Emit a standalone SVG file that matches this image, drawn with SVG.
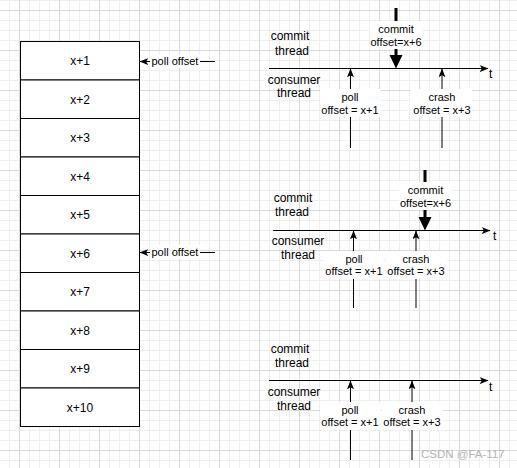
<svg xmlns="http://www.w3.org/2000/svg" width="517" height="468" viewBox="0 0 517 468">
<defs>
<pattern id="grid" x="19" y="10" width="40" height="40" patternUnits="userSpaceOnUse">
<path d="M10.5,0V40M20.5,0V40M30.5,0V40M0,10.5H40M0,20.5H40M0,30.5H40" stroke="#efefef" stroke-width="1" fill="none"/>
<path d="M0.5,0V40M0,0.5H40" stroke="#dadada" stroke-width="1" fill="none"/>
</pattern>
<marker id="arr" viewBox="0 0 10 8" markerWidth="9" markerHeight="7" refX="9.5" refY="4" orient="auto" markerUnits="userSpaceOnUse">
<path d="M0,0 L10,4 L0,8 L2.5,4 Z" fill="#000"/>
</marker>
<style>
text{font-family:"Liberation Sans",Arial,sans-serif;fill:#000;}
.cell{fill:#fff;stroke:#000;stroke-width:1;}
.t12{font-size:12px;text-anchor:middle;}
.t11{font-size:11px;text-anchor:middle;}
.ln{stroke:#000;stroke-width:1;fill:none;}
.bg{fill:#fff;}
.bold{stroke:#000;stroke-width:3;fill:none;}
</style>
</defs>
<rect width="517" height="468" fill="#fff"/>
<rect width="517" height="468" fill="url(#grid)"/>

<g id="table">
<g id="cell1"><rect class="cell" x="20.5" y="41.5" width="119" height="38.5"/><text class="t12" x="80" y="65">x+1</text></g>
<g id="cell2"><rect class="cell" x="20.5" y="80" width="119" height="38.5"/><text class="t12" x="80" y="103.5">x+2</text></g>
<g id="cell3"><rect class="cell" x="20.5" y="118.5" width="119" height="38.5"/><text class="t12" x="80" y="142">x+3</text></g>
<g id="cell4"><rect class="cell" x="20.5" y="157" width="119" height="38.5"/><text class="t12" x="80" y="180.5">x+4</text></g>
<g id="cell5"><rect class="cell" x="20.5" y="195.5" width="119" height="38.5"/><text class="t12" x="80" y="219">x+5</text></g>
<g id="cell6"><rect class="cell" x="20.5" y="234" width="119" height="38.5"/><text class="t12" x="80" y="257.5">x+6</text></g>
<g id="cell7"><rect class="cell" x="20.5" y="272.5" width="119" height="38.5"/><text class="t12" x="80" y="296">x+7</text></g>
<g id="cell8"><rect class="cell" x="20.5" y="311" width="119" height="38.5"/><text class="t12" x="80" y="334.5">x+8</text></g>
<g id="cell9"><rect class="cell" x="20.5" y="349.5" width="119" height="38.5"/><text class="t12" x="80" y="373">x+9</text></g>
<g id="cell10"><rect class="cell" x="20.5" y="388" width="119" height="38.5"/><text class="t12" x="80" y="411.5">x+10</text></g>
</g>

<g id="connectors">
<!-- poll offset pointers -->
<path class="ln" d="M215,61.5 H140" marker-end="url(#arr)"/>
<path class="ln" d="M215,252.5 H140" marker-end="url(#arr)"/>
<!-- timeline 1 -->
<path class="ln" d="M269,68.5 H488" marker-end="url(#arr)"/>
<path class="ln" d="M350.5,148 V69" marker-end="url(#arr)"/>
<path class="ln" d="M442,148 V69" marker-end="url(#arr)"/>
<path class="bold" d="M396,8 V56"/>
<polygon points="389.5,55 402.5,55 396,68.5" fill="#000"/>
<!-- timeline 2 -->
<path class="ln" d="M273,230.5 H490" marker-end="url(#arr)"/>
<path class="ln" d="M353.5,308 V231" marker-end="url(#arr)"/>
<path class="ln" d="M416,308 V231" marker-end="url(#arr)"/>
<path class="bold" d="M425,170 V218"/>
<polygon points="418.5,217 431.5,217 425,230.5" fill="#000"/>
<!-- timeline 3 -->
<path class="ln" d="M269,380.5 H488" marker-end="url(#arr)"/>
<path class="ln" d="M350.5,460 V381" marker-end="url(#arr)"/>
<path class="ln" d="M412,460 V381" marker-end="url(#arr)"/>
</g>

<g id="poll-offset-1"><rect class="bg" x="150" y="54" width="50" height="14"/><text x="151.5" y="65" style="font-size:11px">poll offset</text></g>
<g id="poll-offset-2"><rect class="bg" x="150" y="245" width="50" height="14"/><text x="151.5" y="256" style="font-size:11px">poll offset</text></g>

<g id="timeline1">
<g id="t1-commit-thread"><text class="t12" x="290" y="39.5">commit</text><text class="t12" x="292" y="54.5">thread</text></g>
<g id="t1-consumer-thread"><text class="t12" x="294" y="83.5">consumer</text><text class="t12" x="294" y="97">thread</text></g>
<g id="t1-t"><text x="489" y="78" style="font-size:12px">t</text></g>
<g id="t1-poll"><rect class="bg" x="320" y="89" width="61" height="28"/><text class="t11" x="350" y="100.5">poll</text><text class="t11" x="350" y="113.5">offset = x+1</text></g>
<g id="t1-crash"><rect class="bg" x="411" y="89" width="61" height="28"/><text class="t11" x="442" y="100.5">crash</text><text class="t11" x="442" y="113.5">offset = x+3</text></g>
<g id="t1-commit"><rect class="bg" x="370" y="21" width="52" height="28"/><text class="t11" x="396" y="32.5">commit</text><text class="t11" x="396" y="46">offset=x+6</text></g>
</g>

<g id="timeline2">
<g id="t2-commit-thread"><text class="t12" x="293" y="201.5">commit</text><text class="t12" x="292" y="216">thread</text></g>
<g id="t2-consumer-thread"><text class="t12" x="298" y="245">consumer</text><text class="t12" x="298" y="259">thread</text></g>
<g id="t2-t"><text x="493" y="240" style="font-size:12px">t</text></g>
<g id="t2-poll"><rect class="bg" x="323" y="251" width="61" height="28"/><text class="t11" x="354" y="262.5">poll</text><text class="t11" x="354" y="274.5">offset = x+1</text></g>
<g id="t2-crash"><rect class="bg" x="386" y="251" width="61" height="28"/><text class="t11" x="416" y="262.5">crash</text><text class="t11" x="416" y="274.5">offset = x+3</text></g>
<g id="t2-commit"><rect class="bg" x="399" y="182" width="53" height="28"/><text class="t11" x="425.5" y="193.5">commit</text><text class="t11" x="425.5" y="207">offset=x+6</text></g>
</g>

<g id="timeline3">
<g id="t3-commit-thread"><text class="t12" x="290" y="352.5">commit</text><text class="t12" x="292" y="367">thread</text></g>
<g id="t3-consumer-thread"><text class="t12" x="294" y="396">consumer</text><text class="t12" x="294" y="410">thread</text></g>
<g id="t3-t"><text x="489" y="391" style="font-size:12px">t</text></g>
<g id="t3-poll"><rect class="bg" x="320" y="402" width="61" height="28"/><text class="t11" x="350" y="413.5">poll</text><text class="t11" x="350" y="426">offset = x+1</text></g>
<g id="t3-crash"><rect class="bg" x="382" y="402" width="61" height="28"/><text class="t11" x="412" y="413.5">crash</text><text class="t11" x="412" y="426">offset = x+3</text></g>
</g>

<text x="421" y="458" style="font-size:11.5px;fill:#b4b4b4">CSDN @FA-117</text>
</svg>
